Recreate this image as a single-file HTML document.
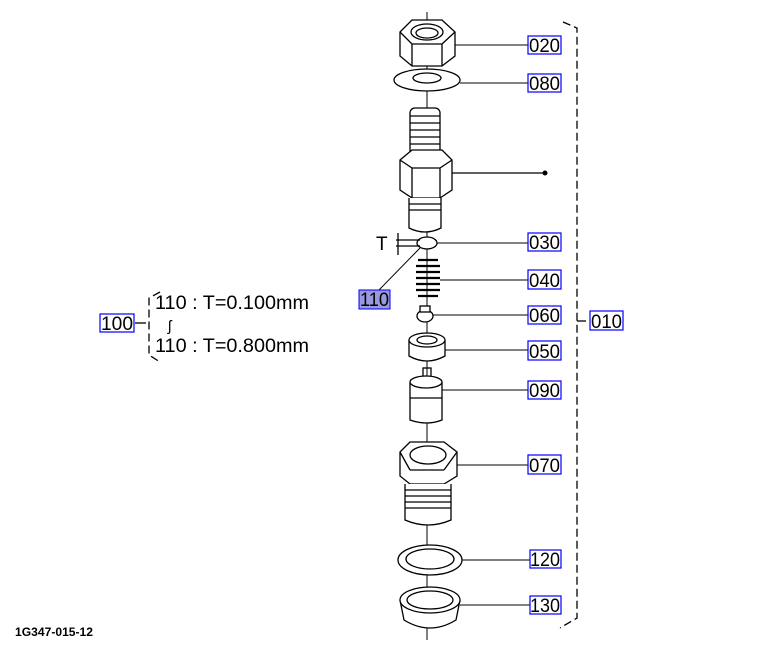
<!DOCTYPE html>
<html><head><meta charset="utf-8"><style>
html,body{margin:0;padding:0;background:#fff;width:762px;height:645px;overflow:hidden}
svg{display:block}
text{font-family:"Liberation Sans",sans-serif;}
</style></head><body>
<svg width="762" height="645" viewBox="0 0 762 645" xmlns="http://www.w3.org/2000/svg">
<g fill="none" stroke="#000" stroke-width="1.3">
<line x1="427" y1="12" x2="427" y2="640" stroke-width="1"/>
<path d="M400 32 L412 20 L442 20 L455 32 L455 56 L442 66 L412 66 L400 56 Z" fill="#fff"/>
<ellipse cx="427" cy="32" rx="16" ry="8" fill="#fff"/>
<ellipse cx="427" cy="33" rx="11" ry="5"/>
<path d="M412 44 L442 44 M412 44 L412 66 M442 44 L442 66 M400 32 L412 44 M455 32 L442 44"/>
<ellipse cx="427" cy="80" rx="33" ry="11" fill="#fff"/>
<ellipse cx="427" cy="78" rx="14" ry="5" fill="#fff"/>
<rect x="410" y="108" width="30" height="52" rx="5" fill="#fff"/>
<path d="M410 116 H440 M410 123 H440 M410 130 H440 M410 137 H440 M410 144 H440 M410 151 H440"/>
<path d="M400 160 L412 150 L442 150 L452 160 L452 190 L440 198 L412 198 L400 190 Z" fill="#fff"/>
<path d="M412 168 L440 168 M400 160 L412 168 M452 160 L440 168 M412 168 V198 M440 168 V198"/>
<path d="M409 198 V228 Q425 236 441 228 V198" fill="#fff"/>
<path d="M409 204 H441 M409 210 H441"/>
<line x1="452" y1="173" x2="545" y2="173"/>
<ellipse cx="427" cy="243" rx="10" ry="6" fill="#fff"/>
<path d="M396 240 H420 M396 246 H420 M398 233 V255"/>
<line x1="420" y1="248" x2="377" y2="292" stroke-width="1"/>
<path d="M418 260 h20 M416 266 h24 M416 272 h24 M416 278 h24 M416 284 h24 M416 290 h24 M418 296 h20" stroke-width="2.2"/>
<ellipse cx="425" cy="316" rx="8" ry="6" fill="#fff"/>
<rect x="420" y="306" width="10" height="6" fill="#fff"/>
<path d="M409 340 V356 Q427 366 445 356 V340" fill="#fff"/>
<ellipse cx="427" cy="340" rx="18" ry="7" fill="#fff"/>
<ellipse cx="427" cy="340" rx="10" ry="4"/>
<rect x="423" y="368" width="8" height="12"/>
<path d="M410 382 V420 Q427 426 442 420 V382" fill="#fff"/>
<ellipse cx="426" cy="382" rx="16" ry="6" fill="#fff"/>
<path d="M410 398 H442"/>
<path d="M400 452 L410 442 L444 442 L457 452 L457 476 L444 484 L410 484 L400 476 Z" fill="#fff"/>
<ellipse cx="428" cy="455" rx="18" ry="9"/>
<path d="M410 470 H444 M400 452 L410 470 M457 452 L444 470"/>
<path d="M405 484 V520 Q428 530 451 520 V484" fill="#fff"/>
<path d="M405 490 H451 M405 496 H451 M405 502 H451 M405 508 H451"/>
<ellipse cx="430" cy="560" rx="32" ry="15" fill="#fff"/>
<ellipse cx="430" cy="559" rx="24" ry="10"/>
<path d="M400 600 L404 620 Q430 636 456 620 L460 600" fill="#fff"/>
<ellipse cx="430" cy="600" rx="30" ry="13" fill="#fff"/>
<ellipse cx="430" cy="600" rx="23" ry="9"/>
<path d="M455 45 H528 M460 83 H528 M437 243 H528 M440 280 H528 M433 315 H528 M445 350 H528 M442 390 H528 M457 465 H528 M462 560 H530 M460 605 H530" stroke-width="1"/>
<path d="M563 22 L577 28 V618 L560 628" stroke-dasharray="8,4"/>
<line x1="577" y1="321" x2="586" y2="321"/>
<path d="M160 292 L149 298 V355 L160 362" stroke-dasharray="8,4"/>
<line x1="135" y1="323" x2="146" y2="323"/>
</g>
<circle cx="545" cy="173" r="2.5" fill="#000"/>
<g font-size="19" fill="#000">
<text x="376" y="250">T</text>
<text x="155" y="309" textLength="154" lengthAdjust="spacingAndGlyphs">110 : T=0.100mm</text>
<text x="168" y="331" font-size="15">ʃ</text>
<text x="155" y="352" textLength="154" lengthAdjust="spacingAndGlyphs">110 : T=0.800mm</text>
</g>
<rect x="359" y="290" width="31" height="19" fill="#9999dd" stroke="#00f"/>
<g fill="none" stroke="#0000ff" stroke-width="1.2">
<rect x="528" y="36" width="33" height="18"/><rect x="528" y="74" width="33" height="18"/>
<rect x="528" y="233" width="33" height="18"/><rect x="528" y="270" width="33" height="19"/>
<rect x="528" y="306" width="33" height="18"/><rect x="528" y="341" width="33" height="19"/>
<rect x="528" y="381" width="33" height="18"/><rect x="528" y="455" width="33" height="19"/>
<rect x="530" y="550" width="31" height="18"/><rect x="530" y="596" width="31" height="18"/>
<rect x="590" y="311" width="33" height="19"/><rect x="100" y="314" width="34" height="18"/>
</g>
<g font-size="19" fill="#000">
<text x="529" y="52" textLength="31" lengthAdjust="spacingAndGlyphs">020</text><text x="529" y="90" textLength="31" lengthAdjust="spacingAndGlyphs">080</text>
<text x="529" y="249" textLength="31" lengthAdjust="spacingAndGlyphs">030</text><text x="529" y="287" textLength="31" lengthAdjust="spacingAndGlyphs">040</text>
<text x="529" y="322" textLength="31" lengthAdjust="spacingAndGlyphs">060</text><text x="529" y="358" textLength="31" lengthAdjust="spacingAndGlyphs">050</text>
<text x="529" y="397" textLength="31" lengthAdjust="spacingAndGlyphs">090</text><text x="529" y="472" textLength="31" lengthAdjust="spacingAndGlyphs">070</text>
<text x="530" y="566" textLength="30" lengthAdjust="spacingAndGlyphs">120</text><text x="530" y="612" textLength="30" lengthAdjust="spacingAndGlyphs">130</text>
<text x="591" y="328" textLength="31" lengthAdjust="spacingAndGlyphs">010</text><text x="101" y="330" textLength="32" lengthAdjust="spacingAndGlyphs">100</text>
<text x="360" y="306" textLength="29" lengthAdjust="spacingAndGlyphs">110</text>
</g>
<text x="15" y="636" font-size="12" font-weight="bold" fill="#000" textLength="78" lengthAdjust="spacingAndGlyphs">1G347-015-12</text>
</svg>
</body></html>
